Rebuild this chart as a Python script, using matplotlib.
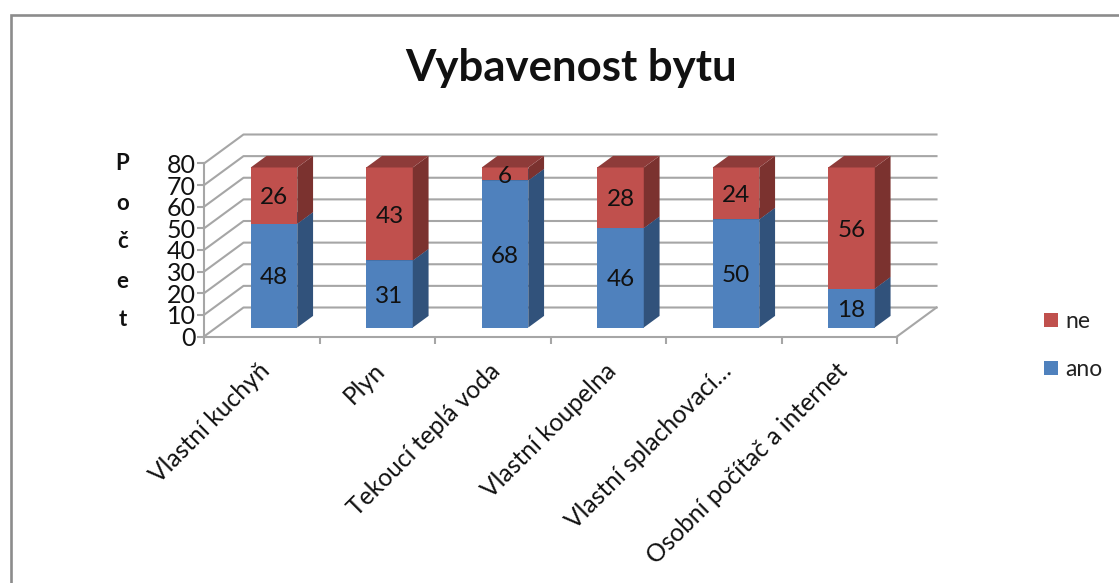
import matplotlib
matplotlib.use("Agg")
import matplotlib.pyplot as plt
from matplotlib.patches import Polygon, Rectangle

categories = ["Vlastní kuchyň", "Plyn", "Tekoucí teplá voda", "Vlastní koupelna",
              "Vlastní splachovací…", "Osobní počítač a internet"]
ano = [48, 31, 68, 46, 50, 18]
ne = [26, 43, 6, 28, 24, 56]
y_ticks = [0, 10, 20, 30, 40, 50, 60, 70, 80]
y_label = "Počet"
title = "Vybavenost bytu"

W, H = 1119, 583
plt.rcParams['font.family'] = ['Lato', 'DejaVu Sans']
fig = plt.figure(figsize=(W / 100, H / 100), dpi=100)

# frame
bg = fig.add_axes([0, 0, 1, 1])
bg.set_xlim(0, W); bg.set_ylim(H, 0); bg.axis("off")
bg.plot([10.5, 10.5, W + 5], [H + 5, 14.5, 14.5], color="#8c8c8c", lw=1.9, solid_joinstyle="miter")

L, R, B, T = 204, 897, 336.5, 163.5
ax = fig.add_axes([L / W, 1 - B / H, (R - L) / W, (B - T) / H])
ax.set_xlim(0, 6); ax.set_ylim(0, 80)
ax.patch.set_visible(False)
for s in ("top", "right"):
    ax.spines[s].set_visible(False)
for s in ("left", "bottom"):
    ax.spines[s].set_color("#a6a6a6"); ax.spines[s].set_linewidth(1.5)

# depth vector of the chart box, in data units
DX, DY = 39.5 * 6 / (R - L), 29 * 80 / (B - T)
grid = "#a6a6a6"
for v in y_ticks:
    ax.plot([0, DX, 6 + DX], [v, v + DY, v + DY], color=grid, lw=1.5, clip_on=False, zorder=1)
ax.plot([6, 6 + DX], [0, DY], color=grid, lw=1.5, clip_on=False, zorder=1)


def box(x0, x1, y0, y1, d0, d1, front, side, top, z):
    a = (x0 + d0 * DX, y0 + d0 * DY)
    w = x1 - x0
    h = y1 - y0
    dd = d1 - d0
    ax.add_patch(Rectangle(a, w, h, fc=front, ec="none", zorder=z, clip_on=False))
    ax.add_patch(Polygon([(a[0] + w, a[1]), (a[0] + w + dd * DX, a[1] + dd * DY),
                          (a[0] + w + dd * DX, a[1] + h + dd * DY), (a[0] + w, a[1] + h)],
                         fc=side, ec="none", zorder=z, clip_on=False))
    ax.add_patch(Polygon([(a[0], a[1] + h), (a[0] + w, a[1] + h),
                          (a[0] + w + dd * DX, a[1] + h + dd * DY), (a[0] + dd * DX, a[1] + h + dd * DY)],
                         fc=top, ec="none", zorder=z, clip_on=False))


BW = 0.403
D0, D1 = 0.31, 0.71
for i, (a, n) in enumerate(zip(ano, ne)):
    c = i + 0.5
    x0, x1 = c - BW / 2, c + BW / 2
    box(x0, x1, 0, a, D0, D1, "#4f81bd", "#31527b", "#3a6191", 3)
    box(x0, x1, a, a + n, D0, D1, "#c0504d", "#7b322f", "#8e3b39", 4)
    cx = c + D0 * DX
    for val, mid in ((a, a / 2), (n, a + n / 2)):
        ax.annotate(str(val), xy=(cx, D0 * DY + mid), xytext=(0, -1.5), textcoords="offset points",
                    ha="center", va="center", fontsize=17.5, color="#111111", zorder=6,
                    annotation_clip=False)

ax.set_xticks(range(7))
ax.set_xticklabels([])
for i, name in enumerate(categories):
    ax.annotate(name, xy=(i + 0.5, 0), xytext=(-3, -16), textcoords="offset points",
                rotation=45, rotation_mode="anchor", ha="right", va="top",
                fontsize=17.7, color="#111111", annotation_clip=False)
ax.set_yticks(y_ticks)
ax.tick_params(axis="both", color="#a6a6a6", width=1.5, length=5)
ax.tick_params(axis="y", labelsize=18, labelcolor="#111111", pad=1)

ys = [163, 204, 241, 281, 320]
for ch, yp in zip(y_label, ys):
    bg.text(122.5, yp, ch, ha="center", va="center", fontsize=16, fontweight="bold", color="#111111")

bg.text(571, 68, title, ha="center", va="center", fontsize=31.5, fontweight="bold", color="#111111")

# legend
for name, col, yp in [("ne", "#c0504d", 320), ("ano", "#4f81bd", 368)]:
    bg.add_patch(Rectangle((1044, yp - 7), 14, 14, fc=col, ec="none"))
    bg.text(1065, yp + 2, name, ha="left", va="center", fontsize=16.5, color="#222222")

fig.savefig("out.png", dpi=100, facecolor="white")
